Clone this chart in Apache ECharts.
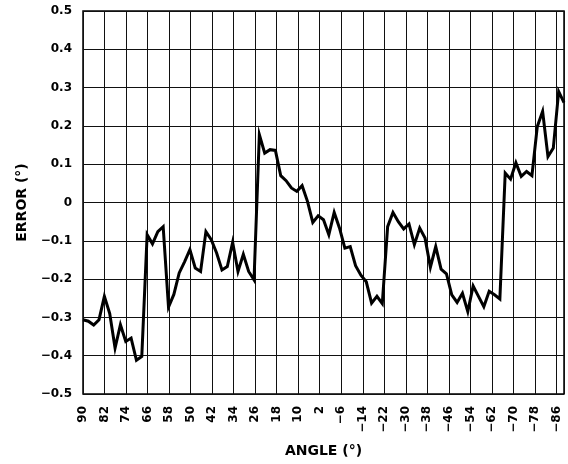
<!DOCTYPE html>
<html>
<head>
<meta charset="utf-8">
<script src="https://cdn.jsdelivr.net/npm/echarts@6/dist/echarts.min.js"></script>
<style>
html,body{margin:0;padding:0;background:#fff;}
#chart{width:568px;height:464px;}
</style>
</head>
<body>
<div id="chart"></div>
<script>
// Angles (degrees), 90 down to -90 in 2-degree steps
var angles = [
   90,  88,  86,  84,  82,  80,  78,  76,  74,  72,
   70,  68,  66,  64,  62,  60,  58,  56,  54,  52,
   50,  48,  46,  44,  42,  40,  38,  36,  34,  32,
   30,  28,  26,  24,  22,  20,  18,  16,  14,  12,
   10,   8,   6,   4,   2,   0,  -2,  -4,  -6,  -8,
  -10, -12, -14, -16, -18, -20, -22, -24, -26, -28,
  -30, -32, -34, -36, -38, -40, -42, -44, -46, -48,
  -50, -52, -54, -56, -58, -60, -62, -64, -66, -68,
  -70, -72, -74, -76, -78, -80, -82, -84, -86, -88,
  -90
];

// Error values (degrees)
var errorValues = [
  -0.306, -0.310, -0.320, -0.306, -0.245, -0.290, -0.380, -0.319, -0.363, -0.354,
  -0.412, -0.402, -0.084, -0.108, -0.076, -0.063, -0.273, -0.240, -0.184, -0.155,
  -0.123, -0.171, -0.180, -0.076, -0.097, -0.132, -0.176, -0.167, -0.104, -0.180,
  -0.135, -0.180, -0.202,  0.177,  0.129,  0.138,  0.136,  0.070,  0.057,  0.038,
   0.029,  0.044,  0.003, -0.052, -0.035, -0.045, -0.084, -0.026, -0.067, -0.119,
  -0.115, -0.165, -0.190, -0.207, -0.263, -0.245, -0.264, -0.063, -0.026, -0.050,
  -0.069, -0.056, -0.110, -0.067, -0.093, -0.169, -0.115, -0.174, -0.186, -0.241,
  -0.261, -0.237, -0.285, -0.218, -0.245, -0.272, -0.232, -0.241, -0.252,  0.077,
   0.061,  0.104,  0.068,  0.081,  0.070,  0.198,  0.238,  0.120,  0.142,  0.290,
   0.261
];

// Tick labels
var xTickLabels = ['90','82','74','66','58','50','42','34','26','18','10','2','\u22126','\u221214','\u221222','\u221230','\u221238','\u221246','\u221254','\u221262','\u221270','\u221278','\u221286'];
var yTickLabels = ['\u22120.5','\u22120.4','\u22120.3','\u22120.2','\u22120.1','0','0.1','0.2','0.3','0.4','0.5'];

var FONT = '"DejaVu Sans", Arial, sans-serif';

var seriesData = angles.map(function (ang, i) { return [90 - ang, errorValues[i]]; });

var chart = echarts.init(document.getElementById('chart'), null, {renderer: 'canvas'});
chart.setOption({
  animation: false,
  backgroundColor: '#fff',
  grid: {
    left: 83, right: 4, top: 11, bottom: 70,
    show: true, borderColor: '#000', borderWidth: 1.5, backgroundColor: 'transparent'
  },
  xAxis: [{
    type: 'value',
    min: 0, max: 178.8, interval: 8,
    name: 'ANGLE (°)',
    nameLocation: 'middle',
    nameGap: 50,
    nameTextStyle: {fontFamily: FONT, fontWeight: 'bold', fontSize: 14, color: '#000'},
    axisLine: {show: false},
    axisTick: {show: false},
    splitLine: {show: true, lineStyle: {color: '#111', width: 1}},
    axisLabel: {
      rotate: 90, margin: 12, showMaxLabel: false,
      fontFamily: FONT, fontWeight: 'bold', fontSize: 12, color: '#000',
      formatter: function (v) {
        var idx = Math.round(v / 8);
        return xTickLabels[idx] !== undefined && Math.abs(v - idx * 8) < 1e-6 ? xTickLabels[idx] : '';
      }
    }
  }, {
    type: 'value',
    min: 0, max: 180,
    show: false
  }],
  yAxis: {
    type: 'value',
    min: -0.5, max: 0.5, interval: 0.1,
    name: 'ERROR (°)',
    nameLocation: 'middle',
    nameGap: 52,
    nameRotate: 90,
    nameTextStyle: {fontFamily: FONT, fontWeight: 'bold', fontSize: 14, color: '#000'},
    axisLine: {show: false},
    axisTick: {show: false},
    splitLine: {show: true, lineStyle: {color: '#111', width: 1}},
    axisLabel: {
      margin: 11,
      fontFamily: FONT, fontWeight: 'bold', fontSize: 12, color: '#000',
      formatter: function (v) {
        var idx = Math.round((v + 0.5) * 10);
        return yTickLabels[idx] !== undefined ? yTickLabels[idx] : '';
      }
    }
  },
  series: [{
    type: 'line',
    xAxisIndex: 1,
    data: seriesData,
    showSymbol: false,
    symbol: 'none',
    lineStyle: {color: '#000', width: 3, join: 'miter'},
    z: 5
  }]
});
</script>
</body>
</html>
